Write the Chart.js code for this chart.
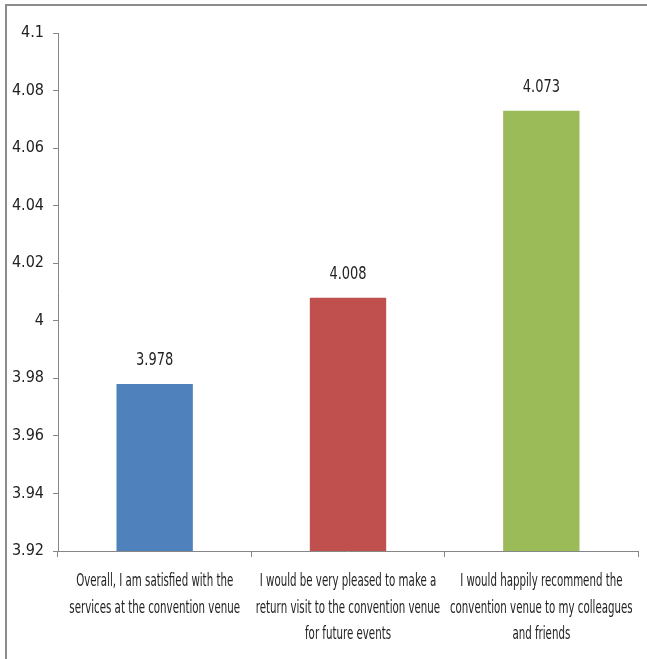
<!DOCTYPE html>
<html>
<head>
<meta charset="utf-8">
<script src="https://cdn.jsdelivr.net/npm/chart.js@4.4.0/dist/chart.umd.min.js"></script>
<style>
  html, body { margin: 0; padding: 0; background: #fff; }
  #wrap { position: relative; width: 647px; height: 659px; }
  #frame { position: absolute; left: 5px; top: 4px; right: 0; bottom: 0;
           border-top: 2px solid #8c8c8c; border-left: 2px solid #8c8c8c; }
  canvas { position: absolute; left: 0; top: 0; }
</style>
</head>
<body>
<div id="wrap">
  <div id="frame"></div>
  <canvas id="chart" width="647" height="659"></canvas>
</div>
<script>
const categories = [
  ['Overall, I am satisfied with the', 'services at the convention venue'],
  ['I would be very pleased to make a', 'return visit to the convention venue', 'for future events'],
  ['I would happily recommend the', 'convention venue to my colleagues', 'and friends']
];
const scores = [3.978, 4.008, 4.073];
const barColors = ['#4f81bd', '#c0504d', '#9bbb59'];
const yTicks = [3.92, 3.94, 3.96, 3.98, 4, 4.02, 4.04, 4.06, 4.08, 4.1];

const fontFamily = '"Liberation Sans Narrow", "DejaVu Sans Condensed", "Liberation Sans", sans-serif';

// squeezed text, the original uses a narrow font
function narrowText(ctx, text, x, y, sx) {
  ctx.save();
  ctx.translate(x, y);
  ctx.scale(sx, 1);
  ctx.fillText(text, 0, 0);
  ctx.restore();
}

// value above each bar + category labels under the x axis
const valueLabels = {
  id: 'valueLabels',
  afterDatasetsDraw(chart) {
    const ctx = chart.ctx;
    const meta = chart.getDatasetMeta(0);
    ctx.save();
    ctx.font = '17px ' + fontFamily;
    ctx.fillStyle = '#222';
    ctx.textAlign = 'center';
    ctx.textBaseline = 'alphabetic';
    meta.data.forEach((bar, i) => {
      narrowText(ctx, scores[i].toFixed(3), bar.x, bar.y - 19, 0.85);
    });
    ctx.restore();
  },
  afterDraw(chart) {
    const ctx = chart.ctx;
    const xs = chart.scales.x;
    const base = chart.chartArea.bottom;
    ctx.save();
    ctx.font = '17px ' + fontFamily;
    ctx.fillStyle = '#222';
    ctx.textAlign = 'center';
    ctx.textBaseline = 'middle';
    categories.forEach((lines, i) => {
      const cx = xs.getPixelForValue(i);
      lines.forEach((line, j) => {
        narrowText(ctx, line, cx, base + 31 + j * 26.5, 0.67);
      });
    });
    ctx.restore();
  }
};

new Chart(document.getElementById('chart'), {
  type: 'bar',
  data: {
    labels: categories,
    datasets: [{
      data: scores,
      backgroundColor: barColors,
      barPercentage: 0.395,
      categoryPercentage: 1
    }]
  },
  options: {
    responsive: false,
    animation: false,
    layout: { padding: { top: 33, right: 9, left: 0, bottom: 0 } },
    plugins: { legend: { display: false }, tooltip: { enabled: false } },
    scales: {
      y: {
        min: 3.92,
        max: 4.1,
        afterBuildTicks: (scale) => { scale.ticks = yTicks.map(v => ({ value: v })); },
        afterFit: (scale) => { scale.width = 58; },
        border: { color: '#868686', width: 1 },
        grid: { drawOnChartArea: false, drawTicks: true, tickLength: 5, color: '#868686' },
        ticks: {
          color: '#222',
          padding: 9,
          font: { family: fontFamily, size: 16 },
          callback: (v) => String(Number(v.toFixed(2)))
        }
      },
      x: {
        afterFit: (scale) => { scale.height = 108; },
        border: { color: '#868686', width: 1 },
        grid: { drawOnChartArea: false, drawTicks: true, tickLength: 6, color: '#868686', offset: true },
        ticks: { display: false }
      }
    }
  },
  plugins: [valueLabels]
});
</script>
</body>
</html>
